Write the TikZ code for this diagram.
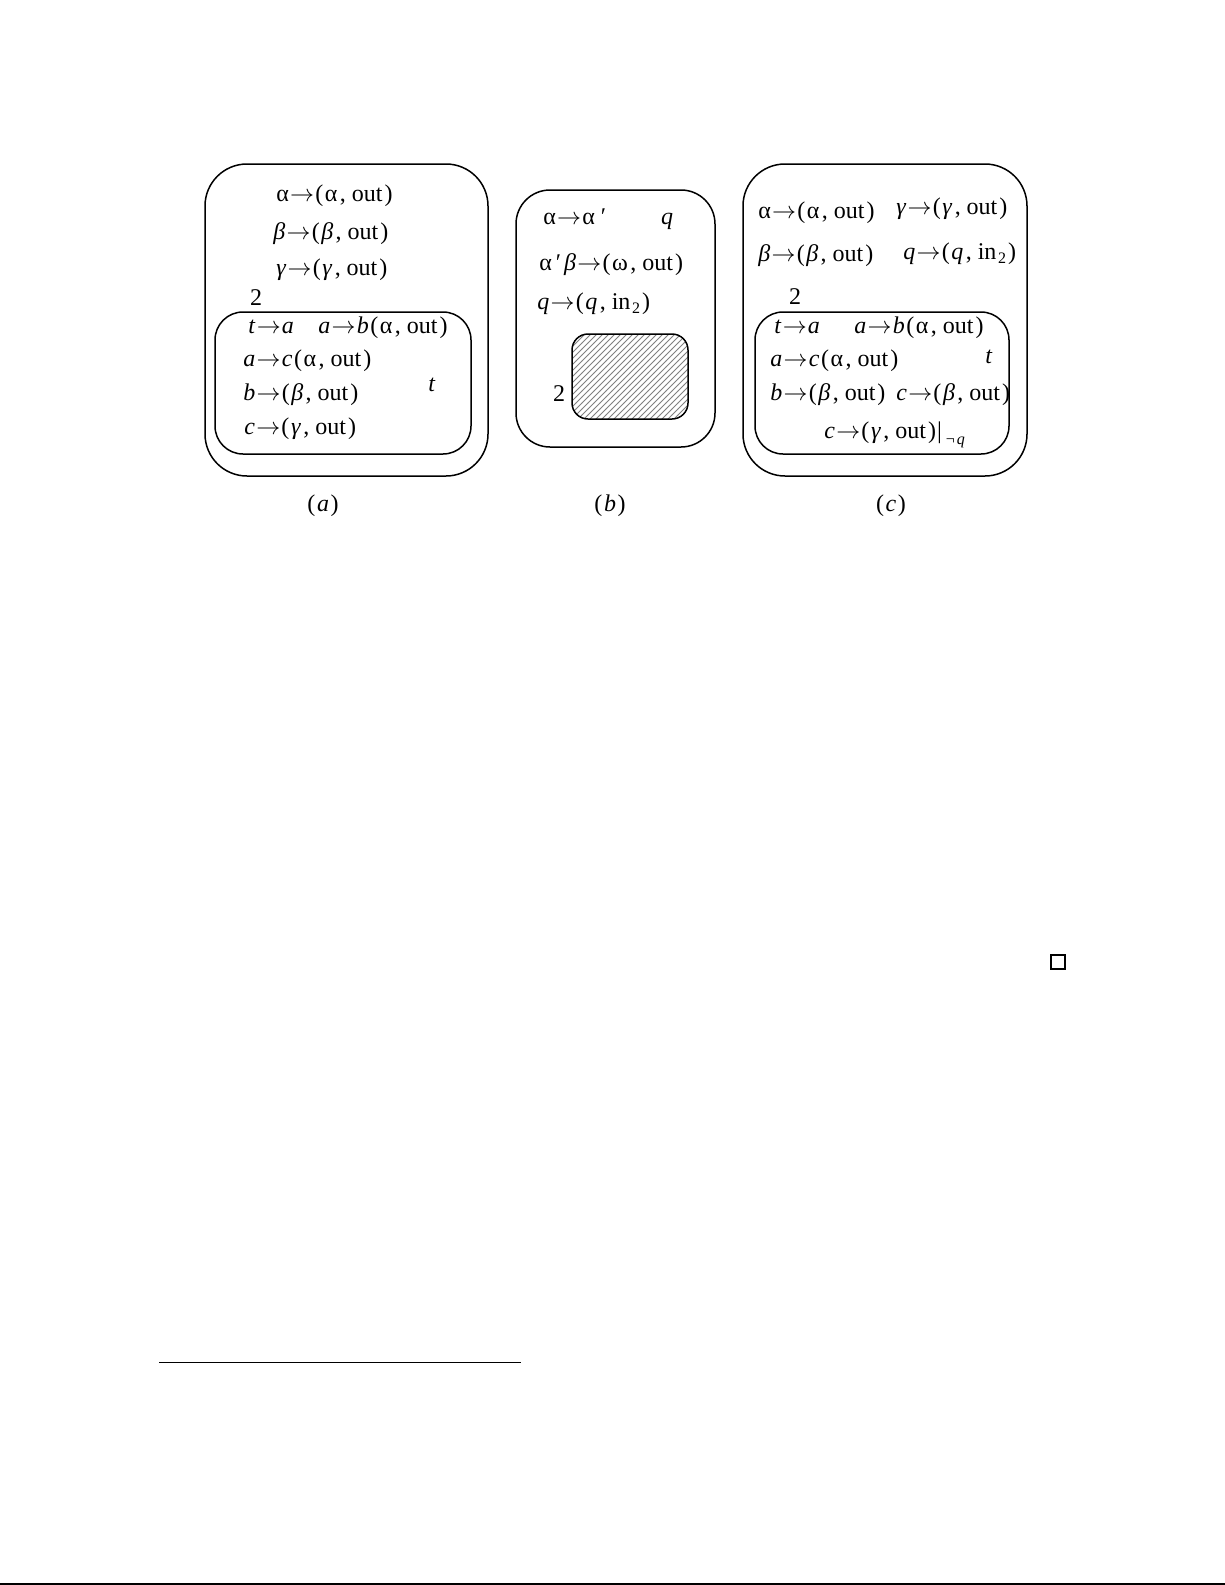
\documentclass[tikz,border=0pt]{standalone}
\usepackage{fontspec}
\setmainfont{Liberation Serif}
\usetikzlibrary{patterns}
\newcommand{\myto}{\kern0.6pt$\rightarrow$\kern0.6pt}
\newcommand{\ii}[1]{\textit{#1}}
\newcommand{\pr}[2]{(\kern0.8pt#1\kern1.2pt, #2\kern1pt)}
\newcommand{\sbtwo}{\kern0.8pt\raisebox{-0.45ex}{\fontsize{8}{9}\selectfont 2}}
\begin{document}
\begin{tikzpicture}[x=0.5pt,y=-0.5pt,
  box/.style={line width=0.75pt},
  tx/.style={anchor=base west,inner sep=0pt,font=\fontsize{12}{14}\selectfont},
  tc/.style={anchor=base,inner sep=0pt,font=\fontsize{12}{14}\selectfont}]
\useasboundingbox (0,0) rectangle (1225,1585);
\fill[white] (0,0) rectangle (1225,1585);
% panel a
\draw[box,rounded corners=21pt] (205,164) rectangle (488,476);
\draw[box,rounded corners=14pt] (215,312) rectangle (471,454);
\node[tx] (a1) at (276,201) {α\myto\pr{α}{out}};
\node[tx] (a2) at (273,239) {\ii{β}\myto\pr{\ii{β}}{out}};
\node[tx] (a3) at (276,275) {\ii{γ}\myto\pr{\ii{γ}}{out}};
\node[tc] (a2n) at (256,305) {2};
\node[tx] (a4) at (248,333) {\ii{t}\myto\ii{a}};
\node[tx] (a5) at (318,333) {\ii{a}\myto\ii{b}\kern0.8pt\pr{α}{out}};
\node[tx] (a6) at (243,366) {\ii{a}\myto\ii{c}\kern0.8pt\pr{α}{out}};
\node[tc] (a7) at (432,391) {\ii{t}};
\node[tx] (a8) at (243,400) {\ii{b}\myto\pr{\ii{β}}{out}};
\node[tx] (a9) at (244,434) {\ii{c}\myto\pr{\ii{γ}}{out}};
\node[tc] (la) at (323,511) {(\kern0.8pt\ii{a}\kern0.8pt)};
% panel b
\draw[box,rounded corners=17pt] (516,190) rectangle (715,447);
\draw[box,rounded corners=8pt,pattern=north east lines,pattern color=gray] (572,334) rectangle (688,419);
\node[tx] (b1) at (543,224) {α\myto α\kern3pt′};
\node[tc] (b2) at (667,224) {\ii{q}};
\node[tx] (b3) at (539,270) {α\kern2pt′\kern1.5pt\ii{β}\myto\pr{ω}{out}};
\node[tx] (b4) at (537,309) {\ii{q}\myto\pr{\ii{q}}{in\sbtwo}};
\node[tc] (b5) at (559,401) {2};
\node[tc] (lb) at (610,511) {(\kern0.8pt\ii{b}\kern0.8pt)};
% panel c
\draw[box,rounded corners=21pt] (743,164) rectangle (1027,476);
\draw[box,rounded corners=14pt] (755,312) rectangle (1009,454);
\node[tx] (c1) at (758,218) {α\myto\pr{α}{out}};
\node[tx] (c2) at (896,214) {\ii{γ}\myto\pr{\ii{γ}}{out}};
\node[tx] (c3) at (758,261) {\ii{β}\myto\pr{\ii{β}}{out}};
\node[tx] (c4) at (903,259) {\ii{q}\myto\pr{\ii{q}}{in\sbtwo}};
\node[tc] (c5) at (795,304) {2};
\node[tx] (c6) at (774,333) {\ii{t}\myto\ii{a}};
\node[tx] (c7) at (854,333) {\ii{a}\myto\ii{b}\kern0.8pt\pr{α}{out}};
\node[tx] (c8) at (770,366) {\ii{a}\myto\ii{c}\kern0.8pt\pr{α}{out}};
\node[tc] (c9) at (989,363) {\ii{t}};
\node[tx] (c10) at (770,400) {\ii{b}\myto\pr{\ii{β}}{out}};
\node[tx] (c11) at (896,400) {\ii{c}\myto\pr{\ii{β}}{out}};
\node[tx] (c12) at (824,438) {\ii{c}\myto\pr{\ii{γ}}{out}\kern0.5pt|\kern2pt\raisebox{-0.6ex}{\fontsize{8}{9}\selectfont ¬\kern1pt\ii{q}}};
\node[tc] (lc) at (891,511) {(\kern0.8pt\ii{c}\kern0.8pt)};
% page furniture
\node[draw,line width=0.6pt,minimum size=7pt,inner sep=0pt] (qed) at (1058,962) {};
\draw[line width=0.5pt] (159,1362) -- (521,1362);
\draw[line width=1pt] (0,1584) -- (1225,1584);
\end{tikzpicture}
\end{document}
